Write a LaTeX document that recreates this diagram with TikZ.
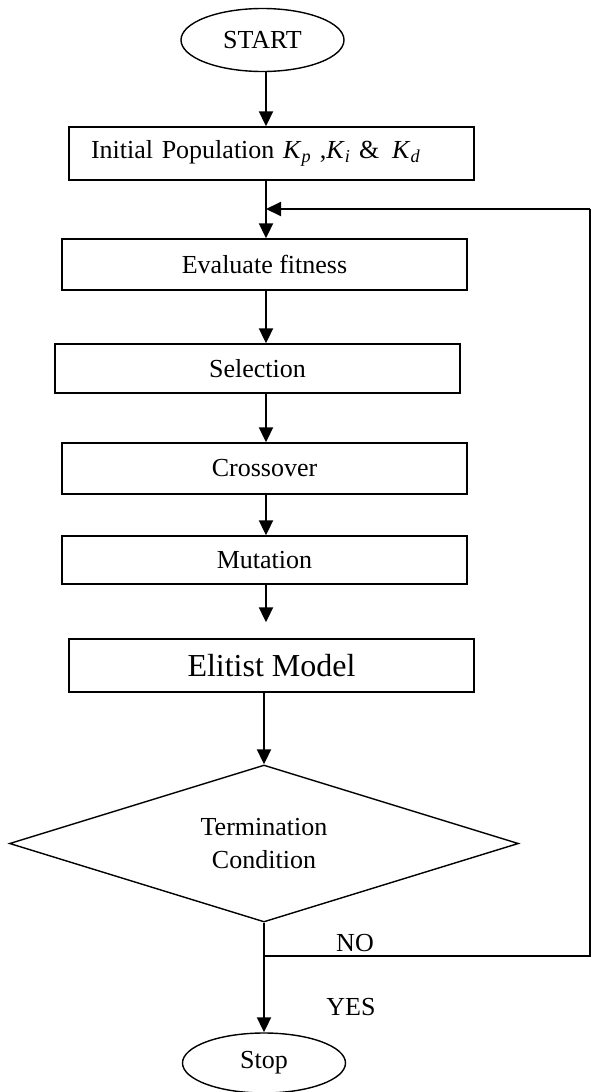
\documentclass[tikz,border=0pt]{standalone}
\usepackage{fontspec}
\setmainfont{Liberation Serif}
\usetikzlibrary{arrows.meta,shapes.geometric}
\newcommand{\kgain}[1]{\textit{K}\textsubscript{\textit{#1}}}
\begin{document}
\begin{tikzpicture}[x=1pt,y=-1pt,
  every node/.style={font=\fontsize{26}{33}\selectfont, inner sep=0pt},
  procbox/.style={draw, line width=1.4pt, minimum width=405pt},
  term/.style={draw, ellipse, line width=1.4pt, minimum width=163pt, minimum height=63pt},
  decis/.style={draw, diamond, aspect=3.24, line width=1.4pt, minimum width=509pt, minimum height=157pt, align=center},
  conn/.style={line width=2pt},
  arr/.style={conn, -{Triangle[length=15pt,width=14pt]}},
  lbl/.style={}
]
\useasboundingbox (0,0) rectangle (592,1092);
\coordinate (ax) at (266,0);
\node[term] (start) at (262.5,40) {START};
\node[procbox, minimum height=53pt, text width=361pt, inner xsep=22pt, align=left] (init) at (271.5,153.5) {Initial Population \kgain{p} ,\kgain{i} \& \,\kgain{d}};
\node[procbox, minimum height=51pt] (eval) at (264.5,264.5) {Evaluate fitness};
\node[procbox, minimum height=49pt] (sel) at (257.5,368.5) {Selection};
\node[procbox, minimum height=51pt] (cross) at (264.5,468.5) {Crossover};
\node[procbox, minimum height=48pt] (mut) at (264.5,560) {Mutation};
\node[procbox, minimum height=53pt, font=\fontsize{32}{38}\selectfont] (elit) at (271.5,665.5) {Elitist Model};
\node[decis] (dia) at (264,843.5) {Termination\\Condition};
\node[term, minimum height=60pt] (stop) at (264,1063) {Stop};
\node[lbl] (no) at (355,943) {NO};
\node[lbl] (yes) at (351,1007) {YES};

\coordinate (join) at (dia.south |- 0,956);
\coordinate (rb) at (590,956);
\coordinate (rt) at (590,209);
\coordinate (fb) at (266,209);

\draw[arr] (start.south -| ax) -- (init.north -| ax);
\draw[arr] (init.south -| ax) -- (eval.north -| ax);
\draw[arr] (eval.south -| ax) -- (sel.north -| ax);
\draw[arr] (sel.south -| ax) -- (cross.north -| ax);
\draw[arr] (cross.south -| ax) -- (mut.north -| ax);
\draw[arr, shorten >=16pt] (mut.south -| ax) -- (elit.north -| ax);
\draw[arr] (elit.south -| dia.north) -- (dia.north);
\draw[conn] (join) -- (rb) -- (rt);
\draw[arr] (rt) -- (fb);
\draw[arr] (dia.south) -- (stop.north);
\end{tikzpicture}
\end{document}
